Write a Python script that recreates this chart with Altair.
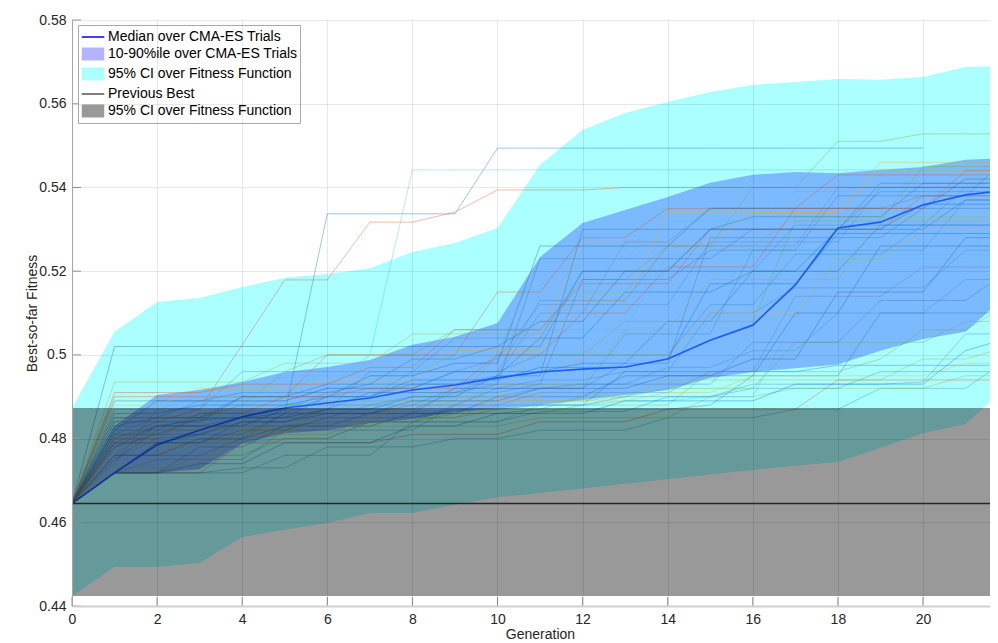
import altair as alt
import pandas as pd

FONT = "Liberation Sans"

# ---------------- data ----------------
gens = list(range(23))

median = [0.4645, 0.4718, 0.4785, 0.4820, 0.4852, 0.4873, 0.4885, 0.4897, 0.4916, 0.4928,
          0.4945, 0.4959, 0.4966, 0.4971, 0.4990, 0.5035, 0.5071, 0.5167, 0.5303, 0.5317,
          0.5358, 0.5382, 0.5394]

band_lo = [0.4645, 0.4718, 0.4718, 0.4727, 0.4789, 0.4813, 0.4820, 0.4837, 0.4847, 0.4863,
           0.4872, 0.4880, 0.4892, 0.4904, 0.4916, 0.4945, 0.4959, 0.4968, 0.4977, 0.5010,
           0.5038, 0.5055, 0.5145]
band_hi = [0.4645, 0.4830, 0.4904, 0.4916, 0.4935, 0.4959, 0.4971, 0.4988, 0.5024, 0.5043,
           0.5076, 0.5234, 0.5315, 0.5346, 0.5377, 0.5411, 0.5430, 0.5437, 0.5434, 0.5442,
           0.5449, 0.5466, 0.5470]

ci_lo = [0.4424, 0.4493, 0.4493, 0.4503, 0.4565, 0.4582, 0.4598, 0.4622, 0.4622, 0.4642,
         0.4660, 0.4670, 0.4681, 0.4692, 0.4703, 0.4714, 0.4725, 0.4735, 0.4744, 0.4778,
         0.4813, 0.4835, 0.4926]
ci_hi = [0.4873, 0.5055, 0.5126, 0.5136, 0.5162, 0.5184, 0.5193, 0.5207, 0.5246, 0.5267,
         0.5303, 0.5454, 0.5537, 0.5578, 0.5604, 0.5628, 0.5645, 0.5652, 0.5659, 0.5657,
         0.5664, 0.5688, 0.5690]

prev_best = 0.4645
prev_ci_lo = 0.4424
prev_ci_hi = 0.4873

trials = [
    [.4645, .4780, .4830, .4845, .4850, .4860, .5337, .5337, .5337, .5337, .5494, .5494, .5494, .5494, .5494, .5494, .5494, .5494, .5494, .5494, .5494],
    [.4645, .4800, .4840, .4870, .5024, .5179, .5179, .5317, .5317, .5341, .5394, .5394, .5394, .5400, .5400, .5400, .5400, .5400, .5400, .5400, .5400, .5400, .5400],
    [.4645, .4718, .4718, .4718, .4718, .4760, .4760, .4760, .4840, .4840, .4840, .4865, .4865, .4865, .4900, .4900, .4930, .4930, .4930, .4930, .4935, .5050, .5050],
    [.4645, .4720, .4790, .4790, .4820, .4820, .4850, .4850, .4850, .4870, .4870, .4880, .4880, .4960, .4960, .4960, .4960, .4960, .4975, .4975, .4975, .4975, .4975],
    [.4645, .4850, .4850, .4850, .4880, .4960, .5000, .5000, .5000, .5060, .5060, .5060, .5180, .5180, .5260, .5260, .5400, .5400, .5510, .5510, .5528, .5528, .5528],
    [.4645, .4840, .4880, .4880, .4880, .4900, .4920, .5000, .5442, .5442, .5442, .5442, .5442, .5442, .5442, .5442, .5442, .5442, .5442, .5442, .5442, .5442, .5442],
    [.4645, .5020, .5020, .5020, .5020, .5020, .5020, .5020, .5020, .5020, .5020, .5080, .5080, .5200, .5200, .5300, .5300, .5300, .5300, .5300, .5360, .5360, .5360],
    [.4645, .4935, .4935, .4935, .4935, .4980, .4980, .4980, .5050, .5050, .5050, .5050, .5150, .5150, .5260, .5260, .5260, .5330, .5330, .5330, .5330, .5330, .5330],
    [.4645, .4740, .4870, .4870, .4960, .4960, .4960, .4960, .4960, .4960, .4990, .5120, .5120, .5120, .5120, .5270, .5270, .5270, .5270, .5400, .5400, .5400, .5400],
    [.4645, .4760, .4760, .4800, .4800, .4850, .4850, .4850, .4880, .4880, .4890, .5050, .5270, .5270, .5270, .5270, .5340, .5340, .5340, .5440, .5440, .5440, .5440],
    [.4645, .4718, .4718, .4718, .4730, .4730, .4780, .4780, .4780, .4800, .4800, .4820, .4820, .4820, .4850, .4850, .4850, .4870, .4870, .4920, .4920, .4920, .4990],
    [.4645, .4790, .4830, .4830, .4830, .4870, .4870, .4910, .4910, .4910, .4930, .4930, .5180, .5180, .5180, .5250, .5250, .5250, .5380, .5380, .5380, .5380, .5470],
    [.4645, .4820, .4890, .4890, .4890, .4890, .4920, .4920, .4920, .4960, .4960, .4960, .4980, .4980, .5080, .5080, .5200, .5200, .5200, .5310, .5310, .5310, .5310],
    [.4645, .4900, .4900, .4900, .4900, .4900, .5000, .5000, .5000, .5000, .5150, .5150, .5280, .5280, .5350, .5350, .5350, .5350, .5430, .5430, .5430, .5430, .5430],
    [.4645, .4750, .4800, .4810, .4850, .4850, .4850, .4880, .4880, .4920, .4920, .4940, .4940, .4960, .4960, .5100, .5100, .5160, .5160, .5160, .5160, .5250, .5250],
    [.4645, .4718, .4718, .4780, .4780, .4830, .4830, .4860, .4860, .4860, .4860, .4870, .4870, .4870, .4870, .4880, .4950, .4950, .4950, .5100, .5100, .5100, .5100],
    [.4645, .4810, .4810, .4850, .4880, .4880, .4890, .4890, .4890, .4890, .5000, .5000, .5000, .5080, .5080, .5080, .5080, .5320, .5320, .5320, .5450, .5450, .5450],
    [.4645, .4870, .4870, .4900, .4900, .4950, .4950, .4950, .4950, .5000, .5000, .5060, .5060, .5060, .5240, .5240, .5240, .5240, .5240, .5240, .5240, .5240, .5240],
    [.4645, .4760, .4760, .4800, .4800, .4830, .4830, .4830, .4860, .4860, .4900, .4900, .4900, .4950, .4950, .4950, .4990, .4990, .5150, .5150, .5150, .5280, .5280],
    [.4645, .4730, .4730, .4730, .4830, .4830, .4830, .4830, .4830, .4830, .4830, .4850, .4850, .4850, .4850, .4900, .4900, .4920, .4920, .4920, .4920, .4950, .4950],
    [.4645, .4830, .4830, .4830, .4830, .4870, .4910, .4910, .4910, .4910, .4950, .5100, .5100, .5270, .5270, .5350, .5350, .5350, .5350, .5350, .5380, .5380, .5380],
    [.4645, .4780, .4780, .4780, .4820, .4820, .4840, .4840, .4900, .4900, .4900, .4900, .5000, .5000, .5000, .5100, .5100, .5100, .5230, .5230, .5300, .5300, .5300],
    [.4645, .4800, .4830, .4830, .4830, .4830, .4840, .4840, .4840, .4880, .4880, .4880, .4880, .4900, .4900, .4900, .4920, .4920, .4920, .4960, .4960, .4960, .4960],
    [.4645, .4750, .4820, .4820, .4850, .4850, .4900, .4900, .4930, .4930, .4930, .5230, .5230, .5230, .5230, .5230, .5300, .5300, .5300, .5390, .5390, .5390, .5390],
    [.4645, .4860, .4860, .4880, .4880, .4880, .4900, .4900, .4940, .4940, .4940, .4970, .4970, .4970, .4990, .5170, .5170, .5170, .5290, .5290, .5290, .5290, .5290],
    [.4645, .4718, .4718, .4718, .4790, .4790, .4790, .4790, .4810, .4810, .4810, .4840, .4840, .4840, .4870, .4870, .4870, .4870, .4940, .4940, .4940, .4940, .4940],
    [.4645, .4810, .4810, .4850, .4850, .4850, .4870, .4960, .4960, .5040, .5040, .5040, .5200, .5200, .5200, .5200, .5200, .5310, .5310, .5310, .5310, .5400, .5400],
    [.4645, .4890, .4890, .4890, .4910, .4910, .4910, .4930, .4930, .4930, .4950, .4950, .5300, .5300, .5300, .5300, .5330, .5330, .5330, .5330, .5410, .5410, .5410],
    [.4645, .4790, .4790, .4790, .4790, .4820, .4850, .4850, .4850, .4850, .4870, .4870, .4900, .4900, .4920, .4920, .4920, .5030, .5030, .5030, .5030, .5080, .5080],
    [.4645, .4740, .4740, .4790, .4790, .4800, .4800, .4840, .4840, .4840, .4840, .4880, .4880, .4890, .4890, .4900, .4900, .5090, .5230, .5230, .5230, .5230, .5350],
    [.4645, .4840, .4840, .4840, .4900, .4900, .4900, .4950, .4950, .4980, .4980, .5260, .5260, .5260, .5260, .5350, .5350, .5350, .5350, .5350, .5350, .5420, .5420],
    [.4645, .4770, .4820, .4820, .4820, .4820, .4870, .4870, .4870, .4890, .4890, .4890, .4890, .4900, .4940, .4940, .4940, .4940, .4940, .4940, .4990, .4990, .5020],
    [.4645, .4718, .4750, .4750, .4750, .4820, .4820, .4820, .4820, .4880, .4880, .4910, .4910, .4910, .4910, .4960, .4960, .5140, .5140, .5140, .5210, .5210, .5210],
    [.4645, .4880, .4880, .4920, .4920, .4920, .4940, .4940, .4940, .5010, .5010, .5010, .5130, .5130, .5340, .5340, .5340, .5340, .5340, .5460, .5460, .5460, .5460],
    [.4645, .4810, .4850, .4850, .4850, .4880, .4880, .4880, .4900, .4900, .4900, .4920, .4920, .5050, .5050, .5050, .5250, .5250, .5250, .5250, .5250, .5370, .5370],
    [.4645, .4760, .4760, .4760, .4800, .4860, .4860, .4860, .4860, .4920, .4920, .4920, .4930, .4930, .4930, .4930, .5030, .5030, .5030, .5130, .5130, .5130, .5200],
    [.4645, .4718, .4790, .4790, .4840, .4840, .4870, .4870, .4900, .4900, .4950, .5040, .5040, .5150, .5150, .5150, .5200, .5200, .5300, .5300, .5300, .5370, .5370],
    [.4645, .4800, .4800, .4860, .4860, .4900, .4900, .4920, .4920, .4920, .5000, .5000, .5100, .5100, .5210, .5210, .5210, .5350, .5350, .5350, .5350, .5440, .5440],
    [.4645, .4760, .4830, .4830, .4850, .4850, .4870, .4870, .4870, .4910, .4910, .4930, .4930, .4930, .4970, .4970, .5010, .5010, .5100, .5100, .5100, .5180, .5180],
    [.4645, .4830, .4850, .4850, .4900, .4900, .4930, .4930, .4990, .4990, .5020, .5020, .5200, .5200, .5200, .5300, .5300, .5300, .5300, .5410, .5410, .5410, .5410],
    [.4645, .4718, .4718, .4760, .4760, .4800, .4800, .4840, .4840, .4860, .4860, .4860, .4880, .4880, .4880, .4960, .4960, .4960, .4960, .4990, .5060, .5060, .5120],
    [.4645, .4870, .4870, .4870, .4910, .4910, .4960, .4960, .4960, .5000, .5000, .5230, .5230, .5230, .5320, .5320, .5320, .5390, .5390, .5390, .5390, .5390, .5460],
    [.4645, .4790, .4790, .4810, .4840, .4840, .4860, .4860, .4890, .4890, .4890, .4920, .4920, .4920, .4950, .4950, .4950, .5100, .5100, .5260, .5260, .5260, .5260],
    [.4645, .4750, .4750, .4830, .4830, .4830, .4880, .4880, .4880, .4880, .4930, .4930, .4930, .5060, .5060, .5180, .5180, .5180, .5180, .5320, .5320, .5320, .5320],
    [.4645, .4850, .4850, .4890, .4890, .4890, .4920, .4920, .4920, .4960, .4960, .5130, .5130, .5130, .5260, .5260, .5260, .5260, .5400, .5400, .5400, .5400, .5400],
    [.4645, .4740, .4740, .4740, .4810, .4810, .4810, .4850, .4850, .4850, .4890, .4890, .4890, .4890, .4910, .4910, .4950, .4950, .4950, .4950, .4950, .4980, .4980],
    [.4645, .4820, .4820, .4860, .4860, .4860, .4900, .4900, .4960, .4960, .4960, .5000, .5000, .5000, .5000, .5120, .5120, .5240, .5240, .5240, .5310, .5310, .5310],
    [.4645, .4780, .4810, .4810, .4810, .4860, .4860, .4860, .4880, .4880, .4920, .4920, .4920, .4980, .4980, .5280, .5280, .5280, .5280, .5280, .5350, .5350, .5350],
    [.4645, .4718, .4718, .4740, .4740, .4790, .4790, .4790, .4830, .4830, .4860, .4860, .4860, .4890, .4890, .4890, .4890, .4930, .4930, .4930, .4930, .5010, .5040],
    [.4645, .4910, .4910, .4910, .4930, .4930, .4930, .4970, .4970, .5060, .5060, .5060, .5170, .5170, .5170, .5300, .5300, .5300, .5300, .5300, .5380, .5380, .5380],
]

trial_palette = ["#0072BD", "#D95319", "#3a86c8", "#2c6e9e", "#77AC30", "#4DBEEE",
                 "#1f5f99", "#9fb040", "#5b7fb0", "#EDB120", "#2e8fb5", "#4a6fa5"]

x_ticks = [0, 2, 4, 6, 8, 10, 12, 14, 16, 18, 20]
y_ticks = [0.44, 0.46, 0.48, 0.50, 0.52, 0.54, 0.56, 0.58]

legend_labels = ["Median over CMA-ES Trials", "10-90%ile over CMA-ES Trials",
                 "95% CI over Fitness Function", "Previous Best",
                 "95% CI over Fitness Function "]

# ---------------- tables ----------------
band_df = pd.DataFrame({"gen": gens, "median": median, "band_lo": band_lo, "band_hi": band_hi,
                        "ci_lo": ci_lo, "ci_hi": ci_hi})
trial_df = pd.DataFrame([
    {"trial": i, "gen": g, "value": v, "color": trial_palette[i % len(trial_palette)]}
    for i, t in enumerate(trials) for g, v in zip(gens, t)
])
prev_df = pd.DataFrame({"gen": [gens[0], gens[-1]], "best": [prev_best] * 2,
                        "lo": [prev_ci_lo] * 2, "hi": [prev_ci_hi] * 2})
xt_df = pd.DataFrame({"t": x_ticks})
yt_df = pd.DataFrame({"t": y_ticks})
leg_df = pd.DataFrame({"label": legend_labels})

# ---------------- scales / axes ----------------
x_scale = alt.Scale(domain=[0, 21.575], nice=False, zero=False)
y_scale = alt.Scale(domain=[0.44, 0.58], nice=False, zero=False)

common_axis = dict(labelFont=FONT, titleFont=FONT, labelFontSize=14, titleFontSize=14,
                   labelColor="#262626", titleColor="#262626", titleFontWeight="normal",
                   gridColor="#000000", gridOpacity=0.09, zindex=1, tickSize=0,
                   labelPadding=6, labelFlush=False, titleBaseline="middle",
                   titleAlign="center")

x_axis = alt.Axis(values=x_ticks, format="d", title="Generation", titleX=468, titleY=28,
                  domainColor="#d0d0d0", domainWidth=2, **common_axis)
y_axis = alt.Axis(values=y_ticks, format="~g", title="Best-so-far Fitness", titleX=-40,
                  titleY=293, domainColor="#a6a6a6", domainWidth=1, **common_axis)

X = alt.X("gen:Q", scale=x_scale, axis=x_axis)


def Y(field):
    return alt.Y(field, type="quantitative", scale=y_scale, axis=y_axis)


ci_area = alt.Chart(band_df).mark_area(color="#00ffff", opacity=0.33, clip=True).encode(
    x=X, y=Y("ci_lo"), y2="ci_hi")
pct_area = alt.Chart(band_df).mark_area(color="#0000ff", opacity=0.27, clip=True).encode(
    x=X, y=Y("band_lo"), y2="band_hi")
trial_lines = alt.Chart(trial_df).mark_line(strokeWidth=1, opacity=0.38, clip=True).encode(
    x=X, y=Y("value"), detail="trial:N", color=alt.Color("color:N", scale=None))
median_line = alt.Chart(band_df).mark_line(color="#1a5cff", strokeWidth=1.7, clip=True).encode(
    x=X, y=Y("median"))
prev_line = alt.Chart(prev_df).mark_line(color="#404040", strokeWidth=1.6, clip=True).encode(
    x=X, y=Y("best"))
prev_area = alt.Chart(prev_df).mark_area(color="#000000", opacity=0.4, clip=True).encode(
    x=X, y=Y("lo"), y2="hi")

x_tick_marks = alt.Chart(xt_df).mark_rule(color="#8c8c8c", strokeWidth=1).encode(
    x=alt.X("t:Q", scale=x_scale, axis=x_axis), y=alt.value(586), y2=alt.value(577))
y_tick_marks = alt.Chart(yt_df).mark_rule(color="#999999", strokeWidth=1).encode(
    y=Y("t"), x=alt.value(0), x2=alt.value(9))

line_path = "M-1.25,0H1.25"
rect_path = "M-1.25,-0.72H1.25V0.72H-1.25Z"
legend_shapes = [line_path, rect_path, rect_path, line_path, rect_path]
legend_fills = ["transparent", "#b3b3ff", "#abffff", "transparent", "#999999"]
legend_strokes = ["#0000ff", "transparent", "transparent", "#555555", "transparent"]

leg = alt.Legend(title=None, orient="none", legendX=6, legendY=5, labelFontSize=14,
                 labelFont=FONT, labelColor="#000000", labelLimit=400, symbolSize=324,
                 symbolStrokeWidth=1.5, symbolOpacity=1, strokeColor="#aaaaaa",
                 fillColor="#ffffff", padding=2, rowPadding=0, labelOffset=5, symbolOffset=3)

legend_layer = alt.Chart(leg_df).mark_point(opacity=1, clip=True).encode(
    x=alt.value(-100), y=alt.value(-100),
    fill=alt.Fill("label:N", scale=alt.Scale(domain=legend_labels, range=legend_fills), legend=leg),
    stroke=alt.Stroke("label:N", scale=alt.Scale(domain=legend_labels, range=legend_strokes), legend=leg),
    shape=alt.Shape("label:N", scale=alt.Scale(domain=legend_labels, range=legend_shapes), legend=leg),
)

chart = alt.layer(
    ci_area, pct_area, trial_lines, median_line, prev_line, prev_area,
    x_tick_marks, y_tick_marks, legend_layer
).properties(
    width=918, height=586,
    padding={"left": 64, "top": 12, "right": 0, "bottom": 36},
    autosize=alt.AutoSizeParams(type="none"),
    background="#ffffff",
).configure_view(
    stroke="transparent"
)

chart.save("out.html", embed_options={"renderer": "svg", "actions": False})
